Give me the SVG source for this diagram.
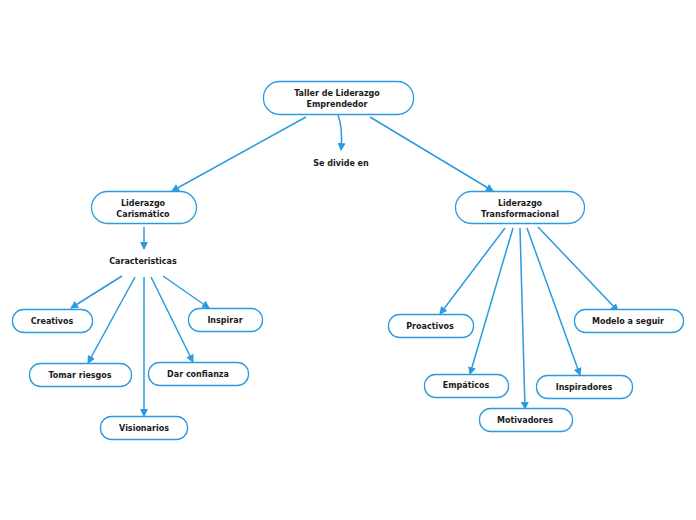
<svg xmlns="http://www.w3.org/2000/svg" width="696" height="520" viewBox="0 0 696 520">
<style>
.n{fill:#fff;stroke:#2a9be0;stroke-width:1.3}
.t{font-family:"DejaVu Sans",Verdana,sans-serif;font-weight:bold;font-size:8px;fill:#1a1a1a;text-anchor:middle}
.c{fill:none;stroke:#2a9be0;stroke-width:1.5}
</style>
<defs>
<marker id="a" markerWidth="8" markerHeight="8" refX="7" refY="4" orient="auto" markerUnits="userSpaceOnUse">
<path d="M0,0 L8,4 L0,8 Z" fill="#2a9be0"/>
</marker>
</defs>
<rect width="696" height="520" fill="#fff"/>
<g id="connectors">
<path class="c" d="M338,115 Q343,128 341,150" marker-end="url(#a)"/>
<path class="c" d="M306,117 L172,191" marker-end="url(#a)"/>
<path class="c" d="M370,117 L493,191" marker-end="url(#a)"/>
<path class="c" d="M144,227 L144,249" marker-end="url(#a)"/>
<path class="c" d="M122,276 L71,308" marker-end="url(#a)"/>
<path class="c" d="M135,277 L88,363" marker-end="url(#a)"/>
<path class="c" d="M144,277 L144,416" marker-end="url(#a)"/>
<path class="c" d="M151,277 L193,362" marker-end="url(#a)"/>
<path class="c" d="M163,276 L209,308" marker-end="url(#a)"/>
<path class="c" d="M505,228 L440,314" marker-end="url(#a)"/>
<path class="c" d="M513,228 L470,374" marker-end="url(#a)"/>
<path class="c" d="M520,228 L525,409" marker-end="url(#a)"/>
<path class="c" d="M527,228 L580,375" marker-end="url(#a)"/>
<path class="c" d="M538,227 L618,311" marker-end="url(#a)"/>
</g>
<g id="root"><rect class="n" x="263.5" y="81.5" width="150" height="33" rx="16"/><text class="t" x="337" y="96">Taller de Liderazgo</text><text class="t" x="337" y="107">Emprendedor</text></g>
<g id="divide"><text class="t" x="341" y="166">Se divide en</text></g>
<g id="carismatico"><rect class="n" x="91.5" y="191.5" width="105" height="32" rx="16"/><text class="t" x="143" y="206">Liderazgo</text><text class="t" x="143" y="217">Carismático</text></g>
<g id="transformacional"><rect class="n" x="455.5" y="191.5" width="129" height="32" rx="16"/><text class="t" x="520" y="206">Liderazgo</text><text class="t" x="520" y="217">Transformacional</text></g>
<g id="caracteristicas"><text class="t" x="143" y="264">Caracteristicas</text></g>
<g id="creativos"><rect class="n" x="12.5" y="309.5" width="80" height="23" rx="11"/><text class="t" x="52" y="324">Creativos</text></g>
<g id="inspirar"><rect class="n" x="188.5" y="308.5" width="74" height="23" rx="11"/><text class="t" x="225" y="323">Inspirar</text></g>
<g id="tomar"><rect class="n" x="29.5" y="363.5" width="102" height="23" rx="11"/><text class="t" x="80" y="378">Tomar riesgos</text></g>
<g id="dar"><rect class="n" x="148.5" y="362.5" width="100" height="23" rx="11"/><text class="t" x="198" y="377">Dar confianza</text></g>
<g id="visionarios"><rect class="n" x="100.5" y="416.5" width="87" height="23" rx="11"/><text class="t" x="144" y="431">Visionarios</text></g>
<g id="proactivos"><rect class="n" x="388.5" y="314.5" width="85" height="23" rx="11"/><text class="t" x="430" y="329">Proactivos</text></g>
<g id="empaticos"><rect class="n" x="424.5" y="374.5" width="84" height="23" rx="11"/><text class="t" x="466" y="388">Empáticos</text></g>
<g id="motivadores"><rect class="n" x="479.5" y="408.5" width="93" height="23" rx="11"/><text class="t" x="525" y="423">Motivadores</text></g>
<g id="inspiradores"><rect class="n" x="536.5" y="375.5" width="96" height="23" rx="11"/><text class="t" x="584" y="390">Inspiradores</text></g>
<g id="modelo"><rect class="n" x="574.5" y="309.5" width="109" height="23" rx="11"/><text class="t" x="628" y="324">Modelo a seguir</text></g>
</svg>
